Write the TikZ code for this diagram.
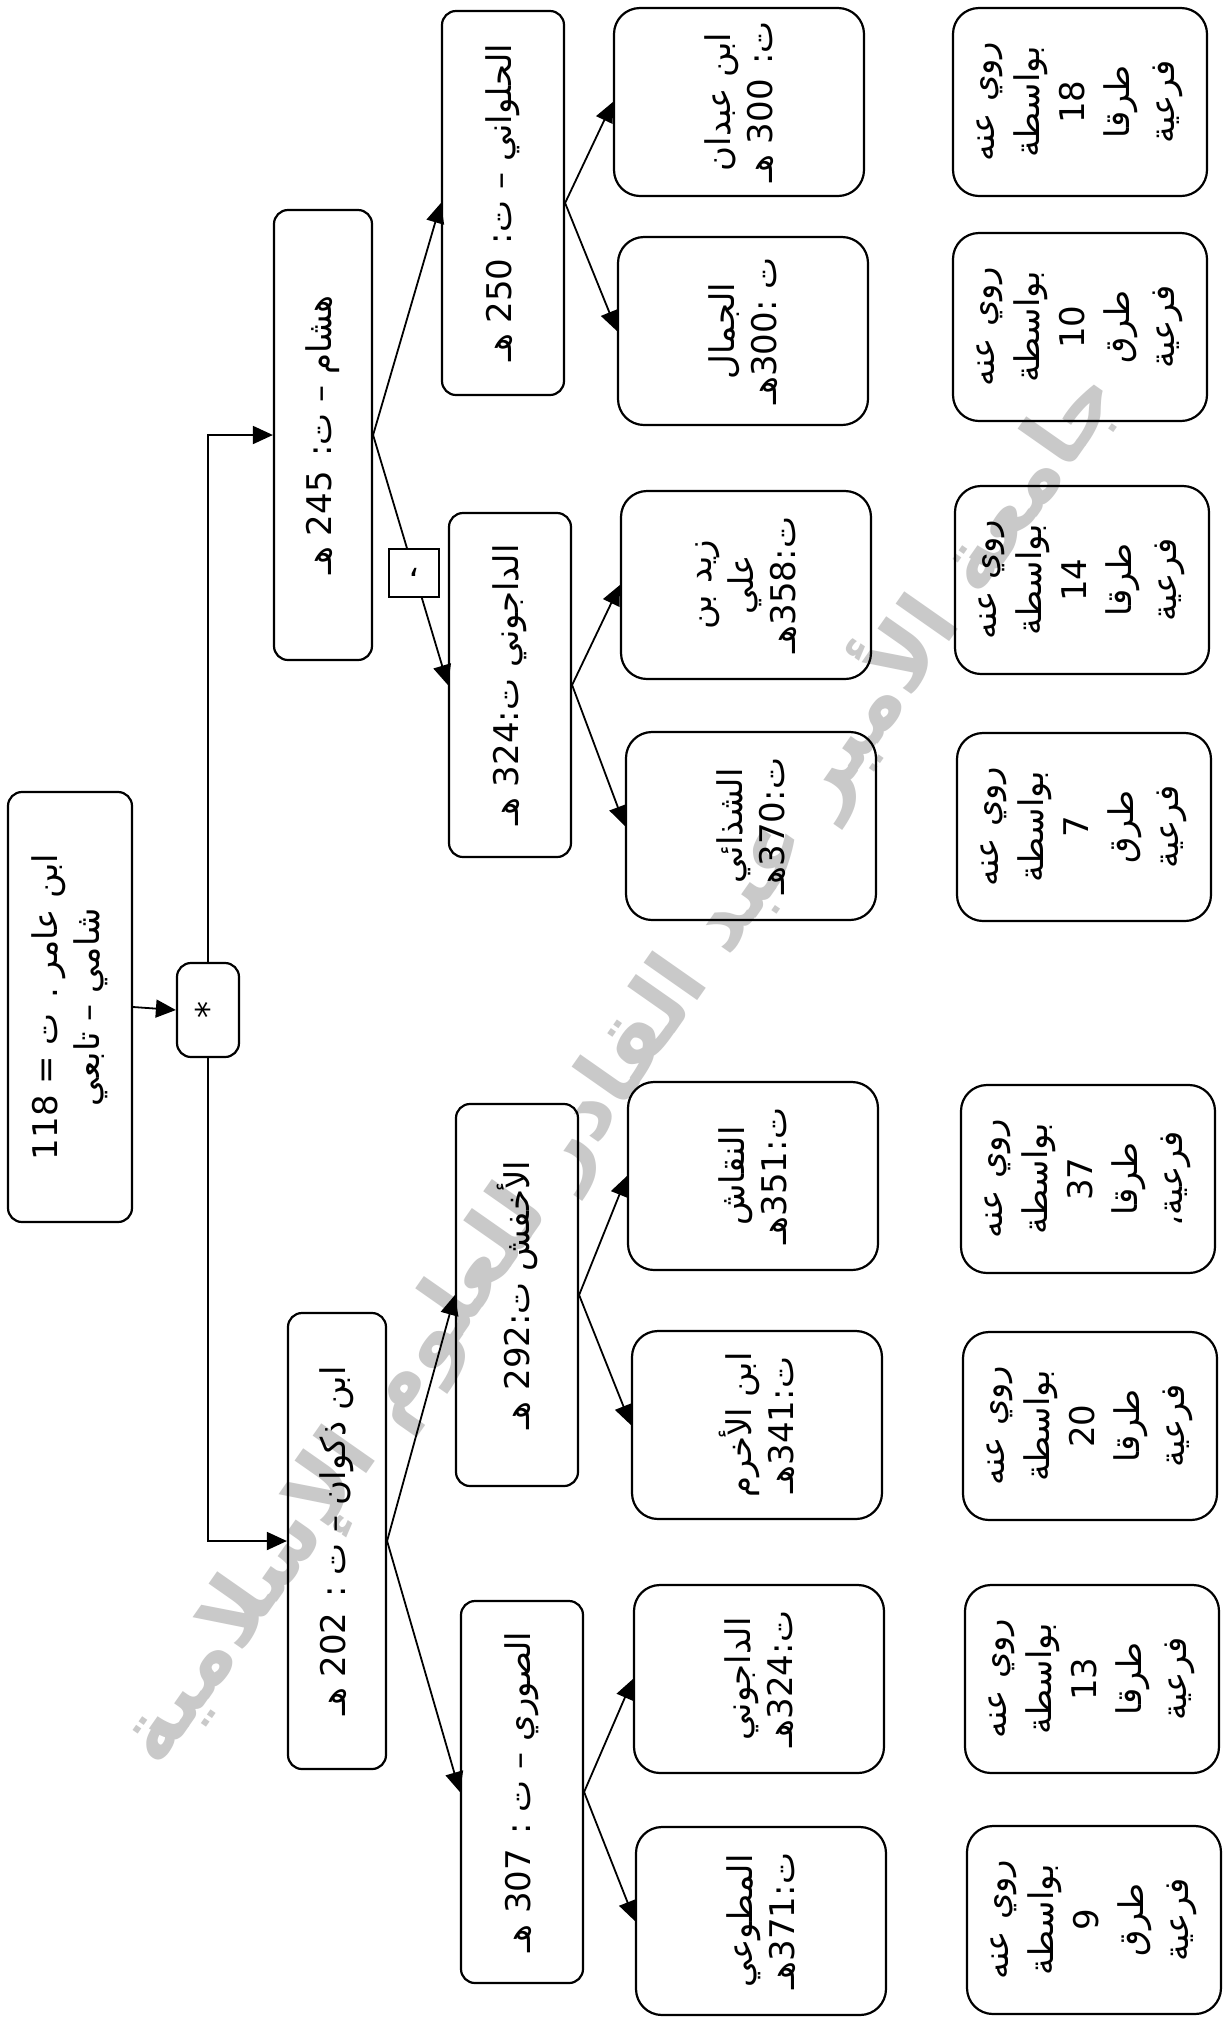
\documentclass[tikz,border=0pt]{standalone}
\usepackage{fontspec}
\setmainfont{DejaVu Sans}
\newfontfamily\arabicfont[Script=Arabic]{DejaVu Sans}
\TeXXeTstate=1
\usetikzlibrary{arrows.meta, positioning}
\newcommand{\ar}[1]{{\arabicfont\beginR #1\endR}}
\newcommand{\ltr}[1]{\beginL #1\endL{}}

\begin{document}
\begin{tikzpicture}[
    x=0.5pt, y=-0.5pt,
    font=\fontsize{17}{21}\selectfont,
    box/.style={rectangle, draw, line width=1.1pt, rounded corners=7pt, rotate=90, align=center, inner sep=2pt},
    mid/.style={box, minimum height=61pt},
    leaf/.style={box, rounded corners=13pt, minimum width=94pt, minimum height=125pt},
    count/.style={leaf, minimum height=127pt, font=\fontsize{17}{22.5}\selectfont},
    commabox/.style={rectangle, draw, fill=white, line width=1pt, minimum width=25pt, minimum height=24pt, inner sep=0pt},
    watermark/.style={rotate=55, text=gray!42, font=\fontsize{43}{45}\selectfont\bfseries},
    arrow/.style={-{Triangle[length=10pt,width=9pt]}, line width=0.9pt}
]
    \useasboundingbox (0,0) rectangle (1224,2020);
    \fill[white] (0,0) rectangle (1224,2020);
    \node[watermark] (wm) at (616,1065) {\ar{جامعة الأمير عبد القادر للعلوم الإسلامية}};

    % root and junction
    \node[box, minimum width=215pt, minimum height=62pt] (root) at (70,1007) {\ar{ابن عامر . ت = \ltr{118}}\\\ar{شامي – تابعي}};
    \node[box, minimum width=47pt, minimum height=31pt] (star) at (208,1010) {*};

    % first level
    \node[box, minimum width=225pt, minimum height=49pt] (hisham) at (323,435) {\ar{هشام – ت: \ltr{245} هـ}};
    \node[box, minimum width=228pt, minimum height=49pt] (dhakwan) at (337,1541) {\ar{ابن ذكوان – ت : \ltr{202} هـ}};

    % second level
    \node[mid, minimum width=192pt] (hulwani) at (503,203) {\ar{الحلواني – ت: \ltr{250} هـ}};
    \node[mid, minimum width=172pt] (dajuni) at (510,685) {\ar{الداجوني ت:\ltr{324} هـ}};
    \node[mid, minimum width=191pt] (akhfash) at (517,1295) {\ar{الأخفش ت:\ltr{292} هـ}};
    \node[mid, minimum width=191pt] (suri) at (522,1792) {\ar{الصوري – ت : \ltr{307} هـ}};

    % third level
    \node[leaf] (abdan) at (739,102) {\ar{ابن عبدان}\\\ar{ت: \ltr{300} هـ}};
    \node[leaf] (jammal) at (743,331) {\ar{الجمال}\\\ar{ت :\ltr{300}هـ}};
    \node[leaf] (zayd) at (746,585) {\ar{زيد بن}\\\ar{علي}\\\ar{ت:\ltr{358}هـ}};
    \node[leaf] (shadhai) at (751,826) {\ar{الشذائي}\\\ar{ت:\ltr{370}هـ}};
    \node[leaf] (naqqash) at (753,1176) {\ar{النقاش}\\\ar{ت:\ltr{351}هـ}};
    \node[leaf] (akhram) at (757,1425) {\ar{ابن الأخرم}\\\ar{ت:\ltr{341}هـ}};
    \node[leaf] (dajunib) at (759,1679) {\ar{الداجوني}\\\ar{ت:\ltr{324}هـ}};
    \node[leaf] (mutawwi) at (761,1921) {\ar{المطوعي}\\\ar{ت:\ltr{371}هـ}};

    % counts of sub-paths
    \node[count] (c18) at (1080,102) {\ar{روي عنه}\\\ar{بواسطة}\\18\\\ar{طرقا}\\\ar{فرعية}};
    \node[count] (c10) at (1080,327) {\ar{روي عنه}\\\ar{بواسطة}\\10\\\ar{طرق}\\\ar{فرعية}};
    \node[count] (c14) at (1082,580) {\ar{روي عنه}\\\ar{بواسطة}\\14\\\ar{طرقا}\\\ar{فرعية}};
    \node[count] (c7) at (1084,827) {\ar{روي عنه}\\\ar{بواسطة}\\7\\\ar{طرق}\\\ar{فرعية}};
    \node[count] (c37) at (1088,1179) {\ar{روي عنه}\\\ar{بواسطة}\\37\\\ar{طرقا}\\\ar{فرعية،}};
    \node[count] (c20) at (1090,1426) {\ar{روي عنه}\\\ar{بواسطة}\\20\\\ar{طرقا}\\\ar{فرعية}};
    \node[count] (c13) at (1092,1679) {\ar{روي عنه}\\\ar{بواسطة}\\13\\\ar{طرقا}\\\ar{فرعية}};
    \node[count] (c9) at (1094,1920) {\ar{روي عنه}\\\ar{بواسطة}\\9\\\ar{طرق}\\\ar{فرعية}};

    % connectors
    \draw[arrow] (root.south) -- (star.north);
    \draw[arrow] (star.east) |- (hisham.north);
    \draw[arrow] (star.west) |- (dhakwan.north);
    \draw[arrow] (hisham.south) -- (hulwani.north);
    \draw[arrow] (hisham.south) -- node[commabox, pos=0.55] (sep) {\ar{،}} (dajuni.north);
    \draw[arrow] (dhakwan.south) -- (akhfash.north);
    \draw[arrow] (dhakwan.south) -- (suri.north);
    \draw[arrow] (hulwani.south) -- (abdan.north);
    \draw[arrow] (hulwani.south) -- (jammal.north);
    \draw[arrow] (dajuni.south) -- (zayd.north);
    \draw[arrow] (dajuni.south) -- (shadhai.north);
    \draw[arrow] (akhfash.south) -- (naqqash.north);
    \draw[arrow] (akhfash.south) -- (akhram.north);
    \draw[arrow] (suri.south) -- (dajunib.north);
    \draw[arrow] (suri.south) -- (mutawwi.north);
\end{tikzpicture}
\end{document}
